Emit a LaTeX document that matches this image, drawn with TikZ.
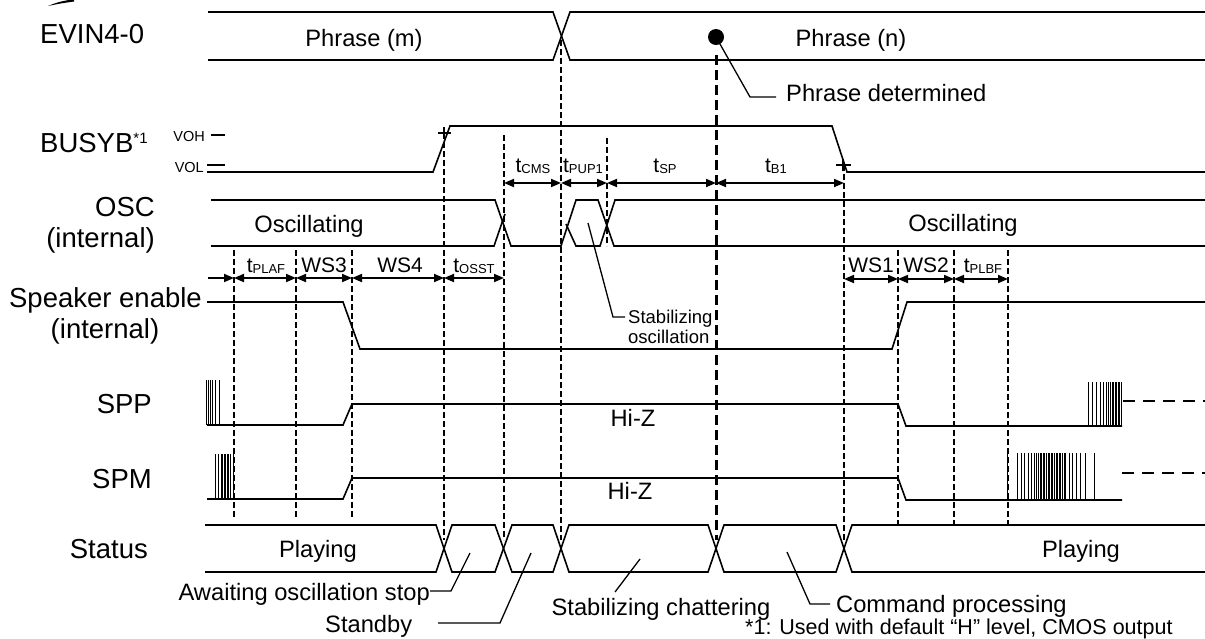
\documentclass[tikz,border=0pt]{standalone}
\usepackage{fontspec}
\setmainfont{Liberation Sans}
\usetikzlibrary{arrows.meta}
\newcommand\tsubx[1]{t{\fontsize{13}{13}\selectfont\raisebox{-1pt}{#1}}}
\begin{document}
\begin{tikzpicture}[x=1pt,y=-1pt,
  sig/.style={line width=1.6pt},
  vd/.style={line width=1.1pt, dash pattern=on 5.5pt off 3.5pt},
  td/.style={line width=3pt, dash pattern=on 10pt off 5pt},
  od/.style={line width=1.6pt, dash pattern=on 12pt off 8pt},
  tarr/.style={line width=1.8pt, {Triangle[length=10pt,width=8pt]}-{Triangle[length=10pt,width=8pt]}},
  rarr/.style={line width=1.8pt, -{Triangle[length=10pt,width=8pt]}},
  lab/.style={inner sep=0pt, font=\fontsize{27.5}{30}\selectfont},
  txt/.style={inner sep=0pt, font=\fontsize{23.7}{26}\selectfont},
  tl/.style={inner sep=0pt, font=\fontsize{21}{24}\selectfont},
  sm/.style={inner sep=0pt, font=\fontsize{18.5}{21}\selectfont},
  vv/.style={inner sep=0pt, font=\fontsize{14.5}{16}\selectfont},
  nt/.style={inner sep=0pt, font=\fontsize{21.5}{24}\selectfont},
  lead/.style={line width=1.3pt},
  burst/.style={line width=1pt}]
\useasboundingbox (0,0) rectangle (1205,638);
\clip (0,0) rectangle (1205,638);

% top-left fragment
\fill (48,6) .. controls (58,2) .. (74,-1) -- (74,1.5) .. controls (60,3.5) .. (48,6) -- cycle;

% ---------- signal labels ----------
\node[lab, anchor=base west] (levin) at (40,43.5) {EVIN4-0};
\node[lab, anchor=base west] (lbusy) at (40,152) {BUSYB\raisebox{8.5pt}{\fontsize{15}{15}\selectfont *1}};
\node[vv, anchor=base east] (voh) at (205,141) {VOH};
\node[vv, anchor=base east] (vol) at (204,172) {VOL};
\node[lab, anchor=base east] (losc) at (155,216) {OSC};
\node[lab, anchor=base east] (losci) at (155,247) {(internal)};
\node[lab, anchor=base east] (lspk) at (202,307) {Speaker enable};
\node[lab, anchor=base] (lspki) at (105,338) {(internal)};
\node[lab, anchor=base east] (lspp) at (152,413) {SPP};
\node[lab, anchor=base east] (lspm) at (152,488) {SPM};
\node[lab, anchor=base east] (lst) at (148,558) {Status};

% ---------- dashed guide lines ----------
\foreach \x in {234,296,352} \draw[vd] (\x,250) -- (\x,518);
\draw[vd] (444,133) -- (444,540);
\draw[vd] (504,135) -- (504,540);
\draw[vd] (561,40) -- (561,540);
\draw[vd] (607,138) -- (607,246);
\draw[vd] (844,165) -- (844,540);
\foreach \x in {898,954,1008} \draw[vd] (\x,250) -- (\x,525);
\draw[td] (716,55) -- (716,540);

% ---------- EVIN4-0 ----------
\draw[sig] (208,12) -- (553,12) -- (570,60) -- (1205,60);
\draw[sig] (208,60) -- (553,60) -- (570,12) -- (1205,12);
\node[txt, anchor=base] (pm) at (364,46) {Phrase (m)};
\node[txt, anchor=base] (pn) at (851,46) {Phrase (n)};
\fill (716,37) circle (8);
\coordinate (dot) at (716,37);
\node[txt, anchor=base west] (pd) at (786,101) {Phrase determined};
\draw[lead] (dot) -- (750,97) -- (776,97);

% ---------- BUSYB ----------
\draw[sig] (211,135) -- (225,135);
\draw[sig] (207,165) -- (225,165);
\draw[sig] (207,172) -- (433,172) -- (450,126) -- (832,126) -- (847,172) -- (1205,172);
\draw[line width=1.3pt] (438,133) -- (451,133) (444,127) -- (444,139);
\draw[line width=1.3pt] (836,165) -- (851,165) (843,159) -- (843,171);
\draw[tarr] (504,183) -- (561,183);
\draw[tarr] (561,183) -- (607,183);
\draw[tarr] (607,183) -- (716,183);
\draw[tarr] (716,183) -- (844,183);
\node[tl, anchor=base] (tcms) at (533,172) {\tsubx{CMS}};
\node[tl, anchor=base] (tpup) at (583,172) {\tsubx{PUP1}};
\node[tl, anchor=base] (tsp) at (665,172) {\tsubx{SP}};
\node[tl, anchor=base] (tb1) at (776,172) {\tsubx{B1}};

% ---------- OSC ----------
\draw[sig] (211,200) -- (495,200) -- (511,246) -- (561,246) -- (576,200) -- (598,200) -- (614,246) -- (1205,246);
\draw[sig] (211,246) -- (494,246) -- (505,214);
\draw[sig] (566,224) -- (576,246) -- (600,246) -- (615,200) -- (1205,200);
\node[txt, anchor=base] (osc1) at (309,232) {Oscillating};
\node[txt, anchor=base] (osc2) at (963,231) {Oscillating};
\node[sm, anchor=base west] (stab1) at (628,323) {Stabilizing};
\node[sm, anchor=base west] (stab2) at (628,343) {oscillation};
\draw[lead] (588,223) -- (613,317) -- (625,317);

% ---------- Speaker enable ----------
\draw[sig] (207,302) -- (343,302) -- (360,349) -- (892,349) -- (907,302) -- (1205,302);
\draw[rarr] (208,278) -- (234,278);
\draw[tarr] (234,278) -- (296,278);
\draw[tarr] (296,278) -- (352,278);
\draw[tarr] (352,278) -- (444,278);
\draw[tarr] (444,278) -- (504,278);
\draw[tarr] (844,279) -- (898,279);
\draw[tarr] (898,279) -- (954,279);
\draw[tarr] (954,279) -- (1008,279);
\node[tl, anchor=base] (tplaf) at (266,272) {\tsubx{PLAF}};
\node[tl, anchor=base] (ws3) at (324,272) {WS3};
\node[tl, anchor=base] (ws4) at (400,272) {WS4};
\node[tl, anchor=base] (tosst) at (474,272) {\tsubx{OSST}};
\node[tl, anchor=base] (ws1) at (871,272) {WS1};
\node[tl, anchor=base] (ws2) at (926,272) {WS2};
\node[tl, anchor=base] (tplbf) at (983,272) {\tsubx{PLBF}};

% ---------- SPP ----------
\draw[sig] (207,425) -- (343,425) -- (352,404) -- (898,404) -- (906,426) -- (1122,426);
\foreach \x in {206,208,210.5,212.5,215,219.5} \draw[burst] (\x,380) -- (\x,425);
\foreach \x in {1088.5,1092.5,1096.5,1100,1103.3,1106,1108.3,1110.5,1112,1113.5,1115,1116.5,1118,1119.5,1121} \draw[burst] (\x,382) -- (\x,426);
\draw[od] (1123,401) -- (1205,401);
\node[txt, anchor=base] (hz1) at (633,426) {Hi-Z};

% ---------- SPM ----------
\draw[sig] (207,499) -- (343,499) -- (352,478) -- (898,478) -- (906,500) -- (1122,500);
\foreach \x in {215,218.5,221,222.5,224,225.5,227,228.5,230,233.5} \draw[burst] (\x,454) -- (\x,499);
\foreach \x in {1007.5,1017.5,1021,1024,1028.3,1031.7,1034.3,1036.7,1038.3,1069.3,1072.7,1076.7,1080.7,1085,1094} \draw[burst] (\x,453) -- (\x,499);
\foreach \x in {1040,1041.6,...,1067} \draw[burst] (\x,453) -- (\x,499);
\draw[od] (1122,473) -- (1205,473);
\node[txt, anchor=base] (hz2) at (630,499.5) {Hi-Z};

% ---------- Status ----------
\draw[sig] (205,525) -- (436,525) -- (452,572) -- (495,572) -- (512,525) -- (553,525) -- (569,572) -- (708,572) -- (724,525) -- (836,525) -- (852,572) -- (1205,572);
\draw[sig] (205,572) -- (436,572) -- (452,525) -- (495,525) -- (512,572) -- (553,572) -- (569,525) -- (708,525) -- (724,572) -- (836,572) -- (852,525) -- (1205,525);
\node[txt, anchor=base] (pl1) at (318,557) {Playing};
\node[txt, anchor=base] (pl2) at (1081,557) {Playing};

\node[txt, anchor=base east] (await) at (430,600) {Awaiting oscillation stop};
\draw[lead] (await.east |- 0,591) -- (451,591) -- (470,553);
\node[txt, anchor=base west] (stby) at (325,632) {Standby};
\draw[lead] (438,623) -- (500,623) -- (531,553);
\node[txt, anchor=base] (chat) at (661,615) {Stabilizing chattering};
\draw[lead] (615,592) -- (640,559);
\node[txt, anchor=base west] (cmd) at (836,612) {Command processing};
\draw[lead] (787,552) -- (810,604) -- (830,604);

\node[nt, anchor=base west] (note) at (745,634.5) {*1: Used with default “H” level, CMOS output};
\end{tikzpicture}
\end{document}
